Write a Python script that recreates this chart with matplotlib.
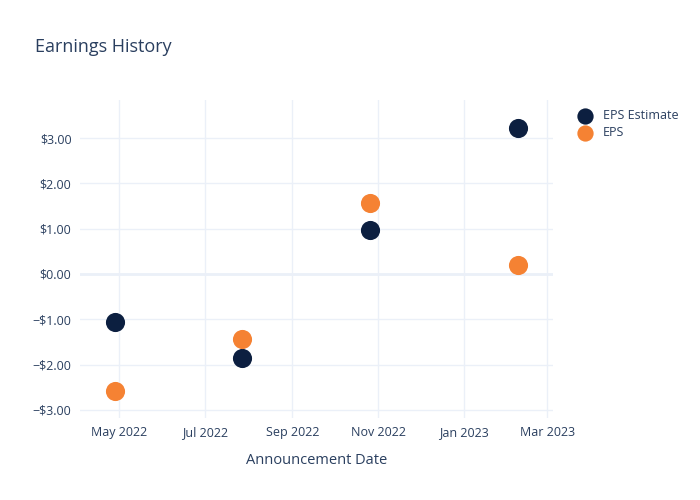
import matplotlib
matplotlib.use("Agg")
import matplotlib.pyplot as plt
import matplotlib.dates as mdates
import matplotlib.ticker as mticker
import numpy as np
from datetime import datetime

dates = ["2022-04-28", "2022-07-27", "2022-10-26", "2023-02-08"]
eps_estimate = [-1.06, -1.85, 0.97, 3.22]
eps_actual = [-2.58, -1.43, 1.57, 0.20]
series_names = ["EPS Estimate", "EPS"]
colors = ["#0c1f40", "#f58233"]
yticks = [-3, -2, -1, 0, 1, 2, 3]

plt.rcParams['font.family'] = ['Open Sans', 'DejaVu Sans']
txt = "#2a3f5f"
grid = "#ebf0f8"

x = [datetime.strptime(d, "%Y-%m-%d") for d in dates]

fig = plt.figure(figsize=(7, 5), dpi=100)
ax = fig.add_axes([0.114, 0.164, 0.676, 0.636])

ax.scatter(x, eps_estimate, s=190, color=colors[0], label=series_names[0], zorder=3, linewidths=0)
ax.scatter(x, eps_actual, s=190, color=colors[1], label=series_names[1], zorder=3, linewidths=0)

ax.set_xlim(datetime(2022, 4, 3), datetime(2023, 3, 5))
ax.set_ylim(-3.18, 3.84)

ax.set_yticks(yticks)
ax.yaxis.set_major_formatter(mticker.FuncFormatter(
    lambda v, p: ("\u2212$%.2f" % abs(v)) if v < 0 else ("$%.2f" % v)))
ax.xaxis.set_major_locator(mdates.MonthLocator(bymonth=[1, 3, 5, 7, 9, 11]))
ax.xaxis.set_major_formatter(mdates.DateFormatter("%b %Y"))

ax.grid(True, color=grid, linewidth=1)
ax.axhline(0, color=grid, linewidth=2, zorder=1)
for s in ax.spines.values():
    s.set_visible(False)
ax.tick_params(axis='both', length=0, labelsize=9, labelcolor=txt, pad=6)
ax.set_axisbelow(True)

ax.set_xlabel("Announcement Date", fontsize=10.5, color=txt, labelpad=10)
fig.text(0.05, 0.907, "Earnings History", fontsize=13, color=txt, ha="left", va="center")

leg = fig.legend(loc="upper left", bbox_to_anchor=(0.81, 0.792), frameon=False,
                 fontsize=9, labelcolor=txt, markerscale=0.85, handletextpad=0.45,
                 labelspacing=0.35, borderaxespad=0)

fig.savefig("out.png", dpi=100, facecolor="white")
